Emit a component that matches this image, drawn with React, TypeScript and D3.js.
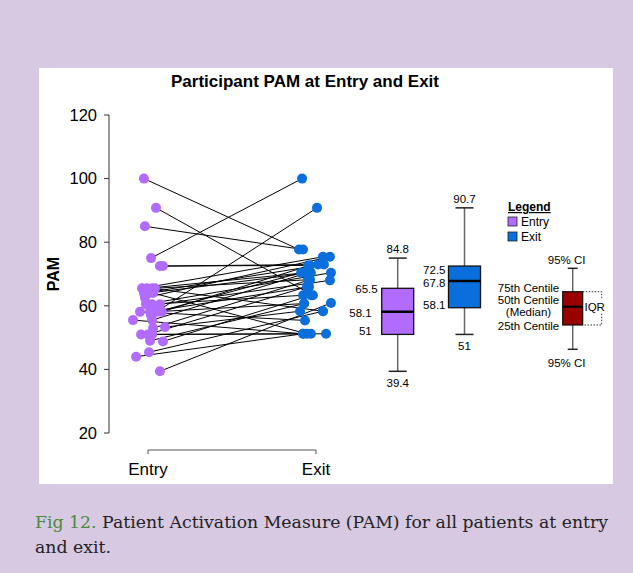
import * as d3 from "d3";
import React from "react";

// paired PAM scores, one entry per participant (entry -> exit)
const entryValues = [100, 90.8, 85, 75, 72.5, 72.5, 65.5, 65.5, 65.5, 65.5, 64, 64, 64, 62.5, 58.1, 58.1, 60.5, 60.5, 60.5, 58.1, 58.1, 57, 58.1, 55.5, 55.5, 53.3, 53, 51, 51, 51, 49, 48.8, 45.4, 44, 39.4];
const exitValues = [77.7, 63.3, 77.7, 100, 72.7, 73, 75.4, 70.4, 58.3, 68.2, 73, 70.4, 51.2, 75.4, 66, 60.7, 70.4, 63.3, 68, 55.4, 70.4, 90.8, 72.7, 51.2, 70.4, 58.3, 68.2, 51.2, 66, 51.2, 60.7, 63.3, 58.3, 51.2, 60.9];
// horizontal jitter, as a fraction of the half band
const entryJitter = [-0.24, 0.47, -0.18, 0.18, 0.7, 0.88, -0.35, -0.06, 0.24, 0.41, -0.24, 0.06, 0.3, -0.18, 0.12, 0.35, -0.12, 0.24, 0.7, -0.47, 0.53, 0.18, 0.82, -0.88, 0.24, 1, 0.3, -0.41, 0, 0.24, 0.12, 0.88, 0.06, -0.7, 0.7];
const exitJitter = [-1, -0.18, -0.76, -0.82, -0.47, 0.12, 0.41, -0.59, 0.41, -0.47, 0.47, -0.3, -0.53, 0.82, -0.41, -0.7, 0.88, -0.76, 0.82, -0.65, -0.88, 0.06, -0.35, -0.76, -0.47, -0.94, -0.35, -0.3, -0.53, 0.59, -0.7, -0.3, 0.41, -0.76, 0.88];

const groups = ["Entry", "Exit"];
const yTicks = [20, 40, 60, 80, 100, 120];

// box plot summaries (whisker ends as drawn, labels as printed)
const boxLow = [39.4, 51];
const boxQ1 = [51, 59.4];
const boxMedian = [58.1, 67.8];
const boxQ3 = [65.5, 72.5];
const boxHigh = [75, 90.8];
const labelLow = ["39.4", "51"];
const labelQ1 = ["51", "58.1"];
const labelMedian = ["58.1", "67.8"];
const labelQ3 = ["65.5", "72.5"];
const labelHigh = ["84.8", "90.7"];

const colors = ["#b26bff", "#0a6fdc"];
const keyColor = "#990000";
const font = "'Liberation Sans', Arial, sans-serif";

export default function App() {
  const y = d3.scaleLinear().domain([20, 120]).range([433, 115]);
  const x = d3.scalePoint().domain(groups).range([148, 316]);
  const xBox = d3.scalePoint().domain(groups).range([397.7, 464.5]);
  const half = 17;
  const boxW = 32;

  const ex = (i: number) => x("Entry")! + entryJitter[i] * half;
  const xx = (i: number) => x("Exit")! + exitJitter[i] * half;

  // key box (explanatory shape, no data)
  const kx = 572.7;
  const kTop = 268.3, kQ3 = 291.7, kMed = 306.7, kQ1 = 325, kBot = 349.3;

  return (
    <svg width={633} height={573} style={{ position: "absolute", left: 0, top: 0 }} fontFamily={font}>
      <rect width={633} height={573} fill="#d8c9e3" />
      <rect x={39} y={68} width={574} height={416} fill="#fff" />

      <text x={305} y={87} textAnchor="middle" fontWeight="bold" fontSize={17}>Participant PAM at Entry and Exit</text>

      {/* y axis */}
      <g fontSize={16.5}>
        <line x1={109} x2={109} y1={y(20)} y2={y(120)} stroke="#333" />
        {yTicks.map((t) => (
          <g key={t}>
            <line x1={104} x2={109} y1={y(t)} y2={y(t)} stroke="#333" />
            <text x={97} y={y(t)} dy="0.35em" textAnchor="end">{t}</text>
          </g>
        ))}
      </g>
      <text transform={`translate(59,${y(70)}) rotate(-90)`} textAnchor="middle" fontWeight="bold" fontSize={16}>PAM</text>

      {/* x axis */}
      <path d={`M${x("Entry")},454V450H${x("Exit")}V454`} fill="none" stroke="#555" />
      {groups.map((g) => (
        <text key={g} x={x(g)} y={475} textAnchor="middle" fontSize={17}>{g}</text>
      ))}

      {/* paired lines */}
      <g stroke="#000" strokeWidth={1}>
        {entryValues.map((v, i) => (
          <line key={i} x1={ex(i)} y1={y(v)} x2={xx(i)} y2={y(exitValues[i])} />
        ))}
      </g>
      {entryValues.map((v, i) => (
        <circle key={"e" + i} cx={ex(i)} cy={y(v)} r={5} fill={colors[0]} />
      ))}
      {exitValues.map((v, i) => (
        <circle key={"x" + i} cx={xx(i)} cy={y(v)} r={5} fill={colors[1]} />
      ))}

      {/* box plots */}
      {groups.map((g, i) => {
        const cx = xBox(g)!;
        const right = cx - boxW / 2;
        return (
          <g key={g} fontSize={11.5}>
            <line x1={cx} x2={cx} y1={y(boxHigh[i])} y2={y(boxQ3[i])} stroke="#666" strokeWidth={1.5} />
            <line x1={cx} x2={cx} y1={y(boxQ1[i])} y2={y(boxLow[i])} stroke="#666" strokeWidth={1.5} />
            <line x1={cx - 9} x2={cx + 9} y1={y(boxHigh[i])} y2={y(boxHigh[i])} stroke="#222" strokeWidth={1.5} />
            <line x1={cx - 9} x2={cx + 9} y1={y(boxLow[i])} y2={y(boxLow[i])} stroke="#222" strokeWidth={1.5} />
            <rect x={right} y={y(boxQ3[i])} width={boxW} height={y(boxQ1[i]) - y(boxQ3[i])} fill={colors[i]} stroke="#111" strokeWidth={1.3} />
            <line x1={right} x2={cx + boxW / 2} y1={y(boxMedian[i])} y2={y(boxMedian[i])} stroke="#000" strokeWidth={2.5} />
            <text x={cx} y={y(boxHigh[i]) - 5} textAnchor="middle">{labelHigh[i]}</text>
            <text x={cx} y={y(boxLow[i]) + 16} textAnchor="middle">{labelLow[i]}</text>
            {i === 0 ? (
              <>
                <text x={right - 4} y={y(boxQ3[i]) + 5} textAnchor="end">{labelQ3[i]}</text>
                <text x={right - 10} y={y(boxMedian[i]) + 5} textAnchor="end">{labelMedian[i]}</text>
                <text x={right - 10} y={y(boxQ1[i]) + 1} textAnchor="end">{labelQ1[i]}</text>
              </>
            ) : (
              <>
                <text x={right - 3} y={y(boxQ3[i]) + 7.5} textAnchor="end">{labelQ3[i]}</text>
                <text x={right - 3} y={y(boxMedian[i]) + 6} textAnchor="end">{labelMedian[i]}</text>
                <text x={right - 3} y={y(boxQ1[i]) + 1} textAnchor="end">{labelQ1[i]}</text>
              </>
            )}
          </g>
        );
      })}

      {/* legend */}
      <g fontSize={12}>
        <text x={508} y={211} fontWeight="bold" textDecoration="underline">Legend</text>
        {groups.map((g, i) => (
          <g key={g} transform={`translate(508,${217 + i * 15})`}>
            <rect width={9} height={9} fill={colors[i]} stroke="#222" strokeWidth={0.8} />
            <text x={13} y={9}>{g}</text>
          </g>
        ))}
      </g>

      {/* key box */}
      <g fontSize={11.5}>
        <line x1={kx} x2={kx} y1={kTop} y2={kBot} stroke="#666" strokeWidth={1.5} />
        <line x1={kx - 5} x2={kx + 5} y1={kTop} y2={kTop} stroke="#222" strokeWidth={1.5} />
        <line x1={kx - 5} x2={kx + 5} y1={kBot} y2={kBot} stroke="#222" strokeWidth={1.5} />
        <rect x={kx - 10} y={kQ3} width={20} height={kQ1 - kQ3} fill={keyColor} stroke="#111" strokeWidth={1.2} />
        <line x1={kx - 10} x2={kx + 10} y1={kMed} y2={kMed} stroke="#000" strokeWidth={2.2} />
        <path d={`M${kx + 10},${kQ3}H${kx + 29}V${kMed - 7}M${kx + 29},${kMed + 7}V${kQ1}H${kx + 10}`} fill="none" stroke="#333" strokeDasharray="1.5,1.5" />
        <text x={kx + 22} y={kMed} dy="0.35em" textAnchor="middle">IQR</text>
        <text x={kx - 6} y={264} textAnchor="middle">95% CI</text>
        <text x={kx - 6} y={367} textAnchor="middle">95% CI</text>
        <text x={528.5} y={292} textAnchor="middle">75th Centile</text>
        <text x={528.5} y={304} textAnchor="middle">50th Centile</text>
        <text x={528.5} y={316} textAnchor="middle">(Median)</text>
        <text x={528.5} y={330} textAnchor="middle">25th Centile</text>
      </g>

      {/* caption */}
      <g fontFamily="'DejaVu Serif', serif" fontSize={17.3} fill="#222">
        <text x={35} y={528}>
          <tspan fill="#4a8a3c">Fig 12.</tspan> Patient Activation Measure (PAM) for all patients at entry
        </text>
        <text x={35} y={553}>and exit.</text>
      </g>
    </svg>
  );
}
